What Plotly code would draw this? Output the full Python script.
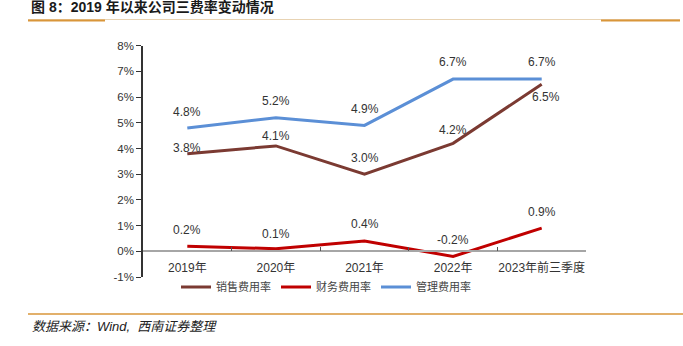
import plotly.graph_objects as go

# Expense ratios (%), 2019 to first three quarters of 2023
categories = ["2019年", "2020年", "2021年", "2022年", "2023年前三季度"]
selling_rate = [3.8, 4.1, 3.0, 4.2, 6.5]
finance_rate = [0.2, 0.1, 0.4, -0.2, 0.9]
admin_rate = [4.8, 5.2, 4.9, 6.7, 6.7]
series_names = ["销售费用率", "财务费用率", "管理费用率"]
y_ticks = [-1, 0, 1, 2, 3, 4, 5, 6, 7, 8]

title_text = "图 8：2019 年以来公司三费率变动情况"
source_text = "数据来源：Wind,  西南证券整理"

W, H = 683, 346
colors = ["#7B3A32", "#C00000", "#5B8FD6"]
series = [selling_rate, finance_rate, admin_rate]

# pixel offsets of each value label relative to its point (dx, dy)
label_offsets = [
    [(0, 6), (0, 10), (0, 16), (0, 13), (4, -13)],
    [(0, 16), (0, 15), (0, 17), (0, 16), (0, 16)],
    [(0, 16), (0, 17), (0, 16), (0, 17), (0, 17)],
]

plot_left, plot_right = 143, 586
plot_top, plot_bottom = 45.7, 277
ymin, ymax = -1, 8

dom_x = [plot_left / W, plot_right / W]
dom_y = [1 - plot_bottom / H, 1 - plot_top / H]
zero_pos = dom_y[0] + (0 - ymin) / (ymax - ymin) * (dom_y[1] - dom_y[0])

base_font = "Liberation Sans, Arial, Noto Sans CJK SC, sans-serif"

fig = go.Figure()
for name, vals, col in zip(series_names, series, colors):
    fig.add_trace(go.Scatter(
        x=categories, y=vals, name=name, mode="lines",
        line=dict(color=col, width=3),
    ))

annotations = []
for vals, offs in zip(series, label_offsets):
    for cat, v, (dx, dy) in zip(categories, vals, offs):
        annotations.append(dict(
            x=cat, y=v, xref="x", yref="y", text=f"{v:.1f}%",
            showarrow=False, xshift=dx, yshift=dy,
            font=dict(size=12, color="#333333", family=base_font),
        ))

annotations.append(dict(
    x=29 / W, y=1 - 7 / H, xref="paper", yref="paper", xanchor="left", yanchor="middle",
    text=f"<b>{title_text}</b>", showarrow=False,
    font=dict(size=14, color="#1a1a1a", family="Liberation Sans, Noto Sans CJK SC, sans-serif"),
))
annotations.append(dict(
    x=30 / W, y=1 - 326 / H, xref="paper", yref="paper", xanchor="left", yanchor="middle",
    text=f"<i>{source_text}</i>", showarrow=False,
    font=dict(size=13, color="#222222", family="Liberation Sans, Noto Sans CJK SC, sans-serif"),
))

shapes = [
    # header rule: thin beige line with orange end segments
    dict(type="line", xref="paper", yref="paper", x0=28 / W, x1=680 / W,
         y0=1 - 19.5 / H, y1=1 - 19.5 / H, line=dict(color="#E8D3B3", width=1)),
    dict(type="line", xref="paper", yref="paper", x0=28 / W, x1=105 / W,
         y0=1 - 20.5 / H, y1=1 - 20.5 / H, line=dict(color="#D9963A", width=2)),
    dict(type="line", xref="paper", yref="paper", x0=601 / W, x1=680 / W,
         y0=1 - 20.5 / H, y1=1 - 20.5 / H, line=dict(color="#D9963A", width=2)),
    # footer rule
    dict(type="line", xref="paper", yref="paper", x0=28 / W, x1=1,
         y0=1 - 314 / H, y1=1 - 314 / H, line=dict(color="#D9963A", width=1.5)),
]

fig.update_layout(
    width=W, height=H,
    margin=dict(l=0, r=0, t=0, b=0, autoexpand=False),
    paper_bgcolor="white", plot_bgcolor="white",
    showlegend=True,
    legend=dict(
        orientation="h", x=176 / W, y=1 - 287 / H, xanchor="left", yanchor="middle",
        font=dict(size=11, color="#444444", family="Noto Sans CJK SC, sans-serif"),
        bgcolor="rgba(0,0,0,0)", traceorder="normal", itemwidth=30,
    ),
    annotations=annotations,
    shapes=shapes,
    xaxis=dict(
        domain=dom_x, type="category", range=[-0.5, len(categories) - 0.5],
        anchor="free", position=zero_pos, automargin=False,
        showline=True, linecolor="#A6A6A6", linewidth=1.5,
        ticks="inside", tickson="boundaries", ticklen=4, tickcolor="#555555",
        showgrid=False, zeroline=False, tickangle=0,
        tickfont=dict(size=12, color="#333333", family=base_font),
        ticklabelstandoff=6,
    ),
    yaxis=dict(
        domain=dom_y, range=[ymin, ymax], tickvals=y_ticks, automargin=False,
        ticktext=[f"{t}%" for t in y_ticks],
        showline=True, linecolor="#333333", linewidth=1.5,
        ticks="outside", ticklen=5, tickcolor="#333333",
        showgrid=False, zeroline=False,
        tickfont=dict(size=11.5, color="#333333", family=base_font),
    ),
)

fig.write_html("out.html")
